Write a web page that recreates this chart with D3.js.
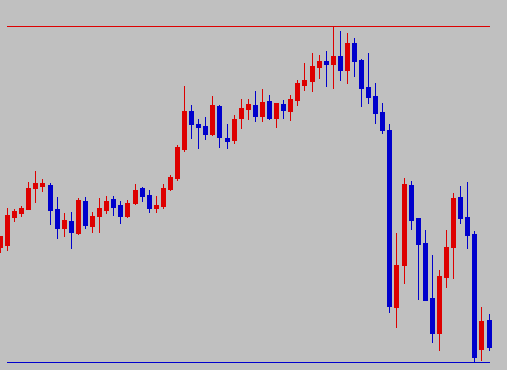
<!DOCTYPE html>
<html>
<head>
<meta charset="utf-8">
<script src="https://cdn.jsdelivr.net/npm/d3@7"></script>
<style>
  html, body { margin: 0; padding: 0; background: #c0c0c0; overflow: hidden; }
  svg { display: block; }
</style>
</head>
<body>
<svg id="chart" width="507" height="370"></svg>
<script>
// Candle values (price units)
const opens  = [123,125,153,157,161,182,184,185,161,142,149,137,169,144,154,160,171,165,154,167,182,175,162,164,181,192,221,259,246,244,236,264,232,230,252,261,265,254,269,252,266,259,270,285,289,303,309,306,314,300,327,310,283,274,258,240,63,105,185,152,127,72,37,93,123,173,153,136,21,50];
const highs  = [134,162,161,164,188,199,191,187,173,157,158,172,173,158,172,174,174,169,170,186,183,180,174,186,195,225,284,265,251,253,274,265,246,255,271,271,279,281,275,267,270,275,290,307,317,315,319,344,339,337,332,311,317,287,267,246,137,192,189,152,140,115,100,140,177,184,188,139,63,56];
const lows   = [118,120,149,154,161,168,179,146,132,134,122,136,142,138,138,157,155,147,153,166,169,158,158,162,180,190,219,232,222,231,235,223,222,227,242,251,249,249,251,243,252,250,265,280,279,292,284,282,290,287,294,264,267,247,237,58,43,87,141,71,70,28,20,83,92,147,122,8,10,20];
const closes = [134,155,159,162,182,187,187,160,142,150,138,170,145,154,162,169,163,154,167,180,174,162,165,182,193,223,259,246,243,236,265,233,229,251,262,266,254,268,252,267,260,271,287,290,304,309,306,314,300,327,309,282,273,257,240,64,105,186,150,126,70,37,94,123,172,152,135,13,49,23];

const upColor = "#dd0000";
const downColor = "#0000cc";

const svg = d3.select("#chart");
const W = 507, H = 370;

const idx = d3.range(opens.length);
const x = d3.scaleLinear().domain([0, opens.length - 1]).range([0.5, 489]);
const y = d3.scaleLinear().domain([d3.min(lows), d3.max(highs)]).range([362, 26]);

svg.append("rect").attr("width", W).attr("height", H).attr("fill", "#c0c0c0");

const g = svg.append("g").attr("shape-rendering", "crispEdges");

// wicks
g.selectAll("line.wick").data(idx).join("line")
  .attr("class", "wick")
  .attr("x1", i => Math.floor(x(i)) + 0.5)
  .attr("x2", i => Math.floor(x(i)) + 0.5)
  .attr("y1", i => Math.round(y(highs[i])))
  .attr("y2", i => Math.round(y(lows[i])) + 1)
  .attr("stroke", i => closes[i] >= opens[i] ? upColor : downColor)
  .attr("stroke-width", 1);

// bodies
g.selectAll("rect.body").data(idx).join("rect")
  .attr("class", "body")
  .attr("x", i => Math.floor(x(i)) - 2)
  .attr("width", 5)
  .attr("y", i => Math.round(y(Math.max(opens[i], closes[i]))))
  .attr("height", i => Math.max(1, Math.round(y(Math.min(opens[i], closes[i]))) - Math.round(y(Math.max(opens[i], closes[i]))) + 1))
  .attr("fill", i => closes[i] >= opens[i] ? upColor : downColor);

// high / low lines
const hi = d3.max(highs), lo = d3.min(lows);
g.append("line")
  .attr("x1", Math.floor(x(1))).attr("x2", Math.floor(x(opens.length - 1)) + 1)
  .attr("y1", Math.round(y(hi)) + 0.5).attr("y2", Math.round(y(hi)) + 0.5)
  .attr("stroke", upColor).attr("stroke-width", 1);
g.append("line")
  .attr("x1", Math.floor(x(1))).attr("x2", Math.floor(x(opens.length - 1)) + 1)
  .attr("y1", Math.round(y(lo)) + 0.5).attr("y2", Math.round(y(lo)) + 0.5)
  .attr("stroke", downColor).attr("stroke-width", 1);
</script>
</body>
</html>
